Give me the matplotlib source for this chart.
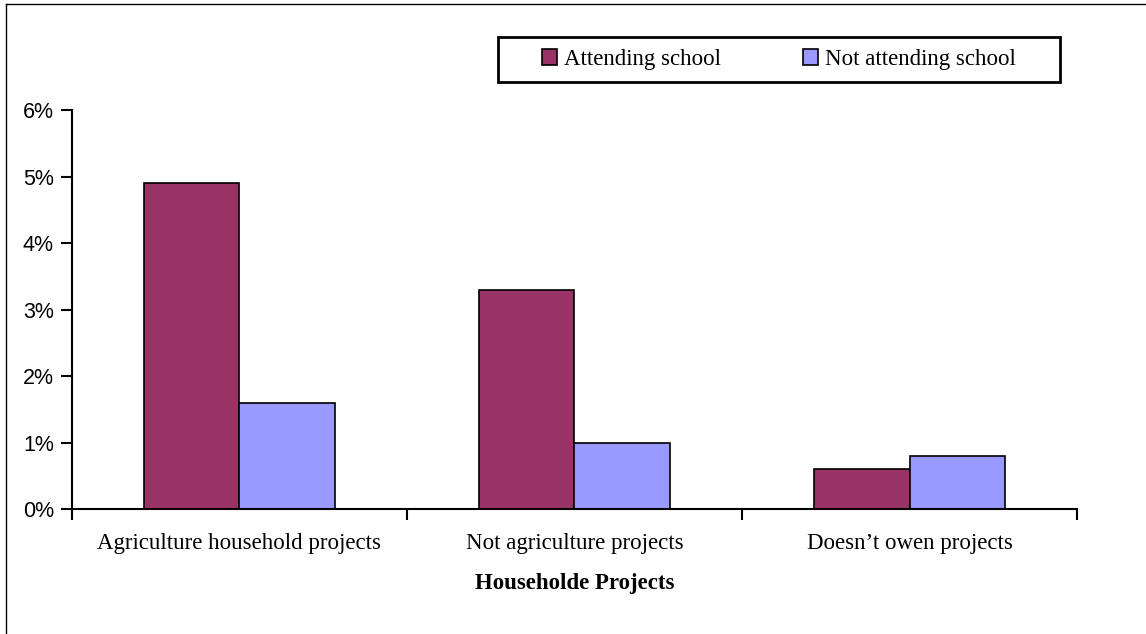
import matplotlib

matplotlib.use("Agg")
import matplotlib.pyplot as plt
import numpy as np
from matplotlib.lines import Line2D
from matplotlib.patches import Rectangle
from matplotlib.ticker import FuncFormatter

categories = ["Agriculture household projects", "Not agriculture projects", "Doesn\u2019t owen projects"]
attending = [4.9, 3.3, 0.6]
not_attending = [1.6, 1.0, 0.8]
series_names = ["Attending school", "Not attending school"]
y_ticks = [0, 1, 2, 3, 4, 5, 6]

SERIF = "Liberation Serif"
SANS = "Liberation Sans"

fig = plt.figure(figsize=(11.46, 6.34), dpi=100)
ax = fig.add_axes([0.0628, 0.197, 0.877, 0.6293])

x = np.arange(len(categories))
w = 0.286
ax.bar(x - w / 2, attending, width=w, color="#993366", edgecolor="black", linewidth=1.2,
       label=series_names[0])
ax.bar(x + w / 2, not_attending, width=w, color="#9999FF", edgecolor="black", linewidth=1.2,
       label=series_names[1])

ax.set_xlim(-0.5, len(categories) - 0.5)
ax.set_ylim(0, 6)
ax.set_yticks(y_ticks)
ax.yaxis.set_major_formatter(FuncFormatter(lambda v, _: f"{v:.0f}%"))
for lab in ax.get_yticklabels():
    lab.set_fontfamily(SANS)
    lab.set_fontsize(15.5)

# category labels centred, ticks at the boundaries
ax.set_xticks(np.arange(len(categories) + 1) - 0.5)
ax.set_xticklabels([])
ax.set_xticks(x, minor=True)
ax.set_xticklabels(categories, minor=True, fontfamily=SERIF, fontsize=16.5)
ax.tick_params(axis="x", which="minor", length=0, pad=17)
ax.tick_params(axis="x", which="major", length=8, width=1.5, direction="out")
ax.tick_params(axis="y", length=8, width=1.5, direction="out", pad=5)

for side in ["top", "right"]:
    ax.spines[side].set_visible(False)
ax.spines["left"].set_linewidth(1.5)
ax.spines["bottom"].set_linewidth(1.5)

ax.set_xlabel("Householde Projects", fontfamily=SERIF, fontsize=16.5, fontweight="bold", labelpad=14)

# legend: entries without frame, box drawn separately
leg = fig.legend(loc="center", bbox_to_anchor=(0.6798, 0.9062), ncol=2,
                 prop={"family": SERIF, "size": 16.5}, frameon=False,
                 handlelength=0.65, handleheight=0.65, handletextpad=0.3,
                 columnspacing=3.6)
fig.patches.append(Rectangle((0.4346, 0.8707), 0.4904, 0.0709, transform=fig.transFigure,
                             fill=False, edgecolor="black", linewidth=2.0))

# page border (top and left only)
fig.lines.append(Line2D([0.0052, 1.0], [0.9937, 0.9937], transform=fig.transFigure,
                        color="black", linewidth=1.0))
fig.lines.append(Line2D([0.0052, 0.0052], [0.0, 0.9937], transform=fig.transFigure,
                        color="black", linewidth=1.0))

fig.savefig("out.png", dpi=100)
